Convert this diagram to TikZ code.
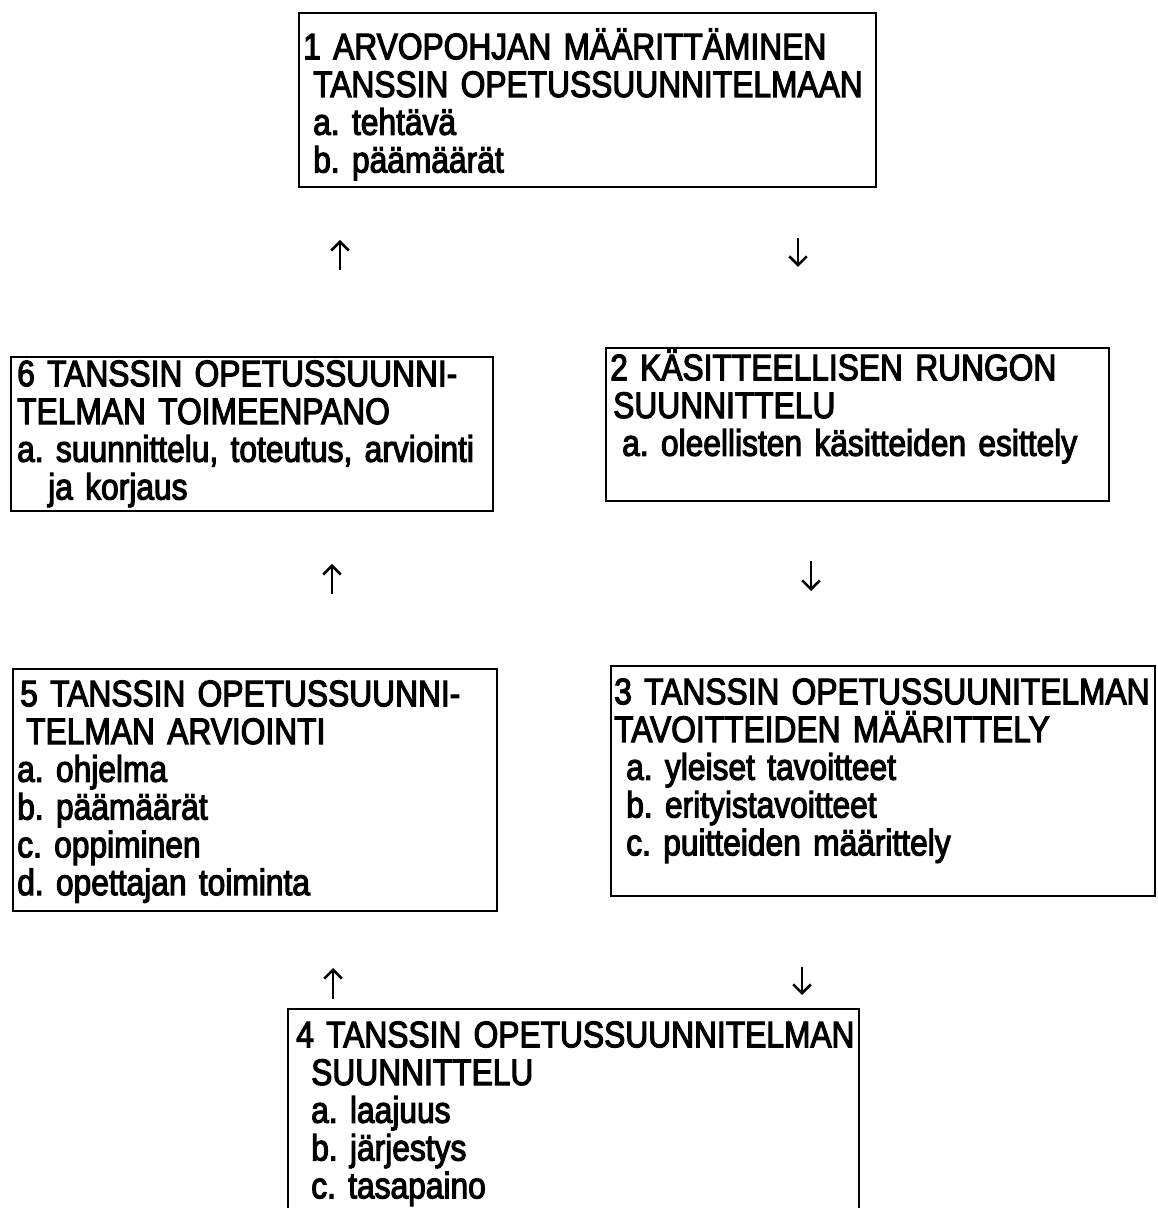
\documentclass[tikz,border=0pt]{standalone}
\usepackage{fontspec}
\setmainfont[FakeStretch=0.86,FakeBold=3]{Liberation Sans}
\usepackage{tikz}
\usetikzlibrary{arrows.meta}
\frenchspacing
\hyphenpenalty=10000
\exhyphenpenalty=10000

\begin{document}
\begin{tikzpicture}[
  stage/.style={
    rectangle, draw=black, line width=1.4pt, anchor=north west,
    inner xsep=0pt, inner ysep=0pt, align=left,
    font=\fontsize{21}{21.5}\selectfont
  },
  arr/.style={-{Straight Barb[length=5pt,width=10pt,line width=1.5pt]}, line width=1.6pt},
]
  \useasboundingbox (0,0) rectangle (23.14,24.16);
  \clip (0,0) rectangle (23.14,24.16);

  % Row 1: value base
  \node[stage, text width=11.54cm, text height=0.92cm, text depth=2.56cm] (arvopohja) at (5.96,23.92)
    {\hspace*{0.08cm}1 ARVOPOHJAN MÄÄRITTÄMINEN\\
     \hspace*{0.28cm}TANSSIN OPETUSSUUNNITELMAAN\\
     \hspace*{0.28cm}a. tehtävä\\
     \hspace*{0.28cm}b. päämäärät};

  % Row 2: implementation and framework
  \node[stage, text width=9.64cm, text height=0.58cm, text depth=2.5cm] (toimeenpano) at (0.20,17.04)
    {\hspace*{0.12cm}6 TANSSIN OPETUSSUUNNI-\\
     \hspace*{0.12cm}TELMAN TOIMEENPANO\\
     \hspace*{0.12cm}a. suunnittelu, toteutus, arviointi\\
     \hspace*{0.74cm}ja korjaus};
  \node[stage, text width=10.06cm, text height=0.64cm, text depth=2.42cm] (runko) at (12.10,17.22)
    {\hspace*{0.08cm}2 KÄSITTEELLISEN RUNGON\\
     \hspace*{0.14cm}SUUNNITTELU\\
     \hspace*{0.32cm}a. oleellisten käsitteiden esittely};

  % Row 3: evaluation and objectives
  \node[stage, text width=9.68cm, text height=0.74cm, text depth=4.1cm] (arviointi) at (0.24,10.80)
    {\hspace*{0.14cm}5 TANSSIN OPETUSSUUNNI-\\
     \hspace*{0.26cm}TELMAN ARVIOINTI\\
     \hspace*{0.08cm}a. ohjelma\\
     \hspace*{0.08cm}b. päämäärät\\
     \hspace*{0.08cm}c. oppiminen\\
     \hspace*{0.08cm}d. opettajan toiminta};
  \node[stage, text width=10.88cm, text height=0.76cm, text depth=3.84cm] (tavoitteet) at (12.20,10.86)
    {\hspace*{0.06cm}3 TANSSIN OPETUSSUUNITELMAN\\
     \hspace*{0.06cm}TAVOITTEIDEN MÄÄRITTELY\\
     \hspace*{0.3cm}a. yleiset tavoitteet\\
     \hspace*{0.3cm}b. erityistavoitteet\\
     \hspace*{0.3cm}c. puitteiden määrittely};

  % Row 4: curriculum design
  \node[stage, text width=11.42cm, text height=0.76cm, text depth=5cm] (suunnittelu) at (5.74,4.00)
    {\hspace*{0.16cm}4 TANSSIN OPETUSSUUNNITELMAN\\
     \hspace*{0.46cm}SUUNNITTELU\\
     \hspace*{0.46cm}a. laajuus\\
     \hspace*{0.46cm}b. järjestys\\
     \hspace*{0.46cm}c. tasapaino};

  % Arrows
  \coordinate (up1s) at (6.80,18.76);  \coordinate (up1e) at (6.80,19.36);
  \coordinate (dn1s) at (15.96,19.40); \coordinate (dn1e) at (15.96,18.82);
  \coordinate (up2s) at (6.64,12.28);  \coordinate (up2e) at (6.64,12.88);
  \coordinate (dn2s) at (16.22,12.94); \coordinate (dn2e) at (16.22,12.34);
  \coordinate (up3s) at (6.66,4.18);   \coordinate (up3e) at (6.66,4.80);
  \coordinate (dn3s) at (16.04,4.82);  \coordinate (dn3e) at (16.04,4.26);
  \draw[arr] (up1s) -- (up1e);
  \draw[arr] (dn1s) -- (dn1e);
  \draw[arr] (up2s) -- (up2e);
  \draw[arr] (dn2s) -- (dn2e);
  \draw[arr] (up3s) -- (up3e);
  \draw[arr] (dn3s) -- (dn3e);
\end{tikzpicture}
\end{document}
